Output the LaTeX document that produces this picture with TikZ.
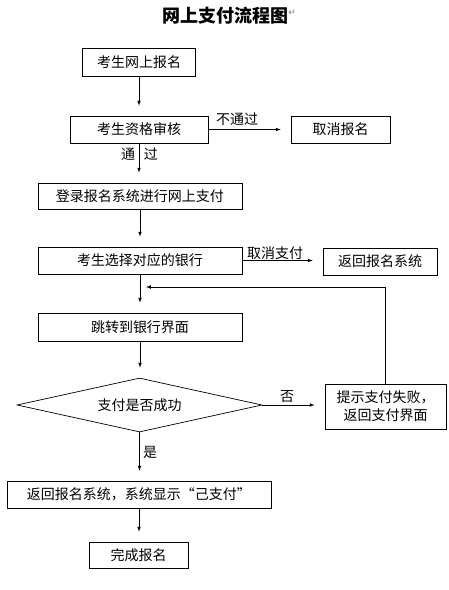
\documentclass[tikz,border=0pt]{standalone}
\usepackage{fontspec}
\setmainfont{Noto Sans CJK SC}
\newfontfamily\markfont{DejaVu Sans}
\usetikzlibrary{shapes.geometric}

\begin{document}
\begin{tikzpicture}[x=1pt,y=-1pt,
  box/.style={draw,line width=0.7pt,rectangle,inner sep=0pt,align=center,font=\fontsize{14pt}{18pt}\selectfont},
  lbl/.style={inner sep=0pt,font=\fontsize{14pt}{16pt}\selectfont},
  flow/.style={draw,line width=0.7pt,->,>=latex,shorten >=10pt}]
\useasboundingbox (0,0) rectangle (448,590);

\node[inner sep=0pt,font=\fontsize{18pt}{20pt}\selectfont\bfseries] (title) at (225,16) {网上支付流程图};
\node[inner sep=0pt,anchor=west,text=gray,font=\markfont\fontsize{9pt}{10pt}\selectfont] (ret) at ([yshift=3pt]title.east) {↵};

\node[box,minimum width=113pt,minimum height=28pt] (reg) at (139,62) {考生网上报名};
\node[box,minimum width=138pt,minimum height=27pt] (check) at (139,129.5) {考生资格审核};
\node[box,minimum width=99pt,minimum height=27pt] (cancel) at (340.5,129.5) {取消报名};
\node[box,minimum width=204pt,minimum height=26pt] (login) at (140,196) {登录报名系统进行网上支付};
\node[box,minimum width=204pt,minimum height=27pt] (bank) at (140,260.5) {考生选择对应的银行};
\node[box,minimum width=114pt,minimum height=27pt] (back) at (380,261.5) {返回报名系统};
\node[box,minimum width=204pt,minimum height=28pt] (jump) at (140,327) {跳转到银行界面};
\node[box,diamond,aspect=4.5,minimum width=245pt,minimum height=54pt] (ok) at (139.5,405) {支付是否成功};
\node[box,minimum width=121pt,minimum height=45pt] (fail) at (385.5,406.5) {提示支付失败，\\返回支付界面};
\node[box,minimum width=264pt,minimum height=27pt] (paid) at (139,494.5) {返回报名系统，系统显示“己支付”};
\node[box,minimum width=99pt,minimum height=26pt] (done) at (138.5,555) {完成报名};

\coordinate (join) at (141,287);

\path[flow] (reg.south) -- (reg.south |- check.north);
\path[flow] (check.east) -- (cancel.west);
\path[flow] (check.south) -- (check.south |- login.north);
\path[flow] (login.south) -- (login.south |- bank.north);
\path[flow] (bank.east) -- (bank.east -| back.west);
\path[flow] (bank.south) -- (bank.south |- jump.north);
\path[flow] (jump.south) -- (jump.south |- ok.north);
\path[flow] (ok.east) -- (ok.east -| fail.west);
\path[flow] (ok.south) -- (ok.south |- paid.north);
\path[flow] (paid.south) -- (paid.south |- done.north);
\path[flow,shorten >=5pt] (fail.north) |- (join);

\node[lbl] (nopass) at (237,119) {不通过};
\node[lbl] (pass) at (139.5,154) {通\hspace{9pt}过};
\node[lbl] (nopay) at (275,253) {取消支付};
\node[lbl] (no) at (287,397) {否};
\node[lbl] (yes) at (150,452) {是};
\end{tikzpicture}
\end{document}
